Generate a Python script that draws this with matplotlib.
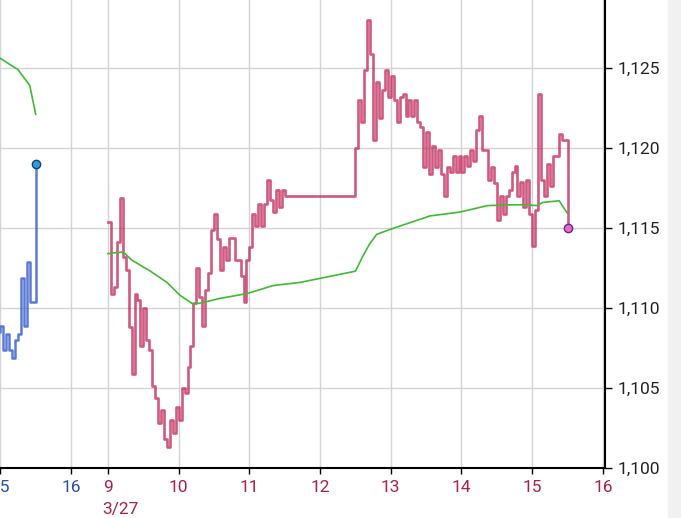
import numpy as np
import matplotlib.pyplot as plt
from matplotlib.patches import Rectangle

plt.rcParams['font.family'] = ['Roboto', 'DejaVu Sans']

# ==================== Data ====================
# previous session (blue) - 5 minute bins starting 14:55
blue_start = "14:55"
blue_lo = [1108.5, 1107.4, 1107.4, 1106.9, 1108.4, 1108.9]
blue_hi = [1109.3, 1108.9, 1108.4, 1108.0, 1111.9, 1112.9]
blue_auction = 1110.4
blue_close = 1119.0

blue_vwap_t = ["14:55", "15:00", "15:15", "15:25", "15:30"]
blue_vwap_v = [1125.8, 1125.6, 1124.9, 1123.9, 1122.1]

# 3/27 session (red) - morning bins from 9:00, afternoon bins from 12:30
red_am_lo = [1110.9, 1111.3, 1113.2, 1108.8, 1105.9, 1107.6, 1108.0, 1105.1, 1102.8, 1101.8,
             1101.3, 1102.2, 1103.0, 1104.7, 1107.6, 1110.7, 1108.9, 1112.2, 1114.3, 1112.4,
             1113.0, 1113.0, 1112.0, 1110.4, 1113.8, 1115.1, 1115.1, 1116.75, 1116.0, 1116.3]
red_am_hi = [1115.4, 1114.1, 1116.9, 1112.4, 1110.9, 1110.5, 1110.0, 1107.4, 1104.4, 1103.6,
             1103.0, 1103.8, 1105.0, 1106.3, 1110.3, 1112.5, 1111.1, 1114.9, 1115.9, 1113.8,
             1114.4, 1114.4, 1113.0, 1113.0, 1115.9, 1116.5, 1116.5, 1118.0, 1117.4, 1117.4]
red_lunch = 1117.0
red_pm_lo = [1120.0, 1121.6, 1125.9, 1120.5, 1121.9, 1123.2, 1123.0, 1121.6, 1122.0, 1122.0,
             1121.6, 1118.8, 1118.4, 1118.8, 1118.4, 1117.0, 1118.5, 1118.5, 1118.5, 1118.9,
             1119.2, 1119.9, 1118.0, 1117.8, 1115.5, 1115.9, 1117.4, 1117.0, 1116.3, 1115.9,
             1113.9, 1118.0, 1117.0, 1117.6, 1119.5]
red_pm_hi = [1123.0, 1124.9, 1128.0, 1124.1, 1123.6, 1124.9, 1124.5, 1123.2, 1123.4, 1123.0,
             1123.0, 1121.3, 1121.0, 1120.1, 1119.9, 1118.8, 1119.5, 1119.5, 1119.5, 1119.9,
             1121.1, 1122.0, 1119.9, 1118.8, 1117.0, 1117.0, 1118.5, 1118.9, 1117.9, 1118.0,
             1116.1, 1123.4, 1119.0, 1119.5, 1120.9]
red_auction = 1120.5
red_close = 1115.0

red_vwap_t = ["9:00", "9:13", "9:20", "9:36", "9:50", "10:01", "10:12", "10:18", "10:35",
              "10:58", "11:20", "11:43", "12:30", "12:36", "12:42", "12:48", "12:59", "13:19",
              "13:33", "13:59", "14:22", "14:44", "14:56", "15:04", "15:09", "15:23", "15:30"]
red_vwap_v = [1113.4, 1113.5, 1113.0, 1112.3, 1111.6, 1110.8, 1110.25, 1110.3, 1110.6,
              1110.9, 1111.4, 1111.6, 1112.3, 1113.2, 1114.0, 1114.6, 1114.9, 1115.4,
              1115.75, 1116.0, 1116.4, 1116.45, 1116.45, 1116.4, 1116.6, 1116.7, 1115.9]

y_ticks = [1100, 1105, 1110, 1115, 1120, 1125]
blue_tick_labels = ["15", "16"]
red_tick_labels = ["9", "10", "11", "12", "13", "14", "15", "16"]
date_label = "3/27"

BLUE_SHIFT = 7.523   # previous day hour -> shared axis position


def hm(s):
    h, m = s.split(':')
    return int(h) + int(m) / 60


def zigzag(start, lo, hi, step=5 / 60):
    """step path: each bin visits its low and high, ordered by where the price heads next"""
    xs, ys = [], []
    for i, (l, h) in enumerate(zip(lo, hi)):
        nxt = (lo[i + 1] + hi[i + 1]) / 2 if i + 1 < len(lo) else (l + h) / 2
        seq = [l, h] if nxt >= (l + h) / 2 else [h, l]
        for k, v in enumerate(seq):
            xs.append(start + i * step + k * step / 2)
            ys.append(v)
    return xs, ys


RED = '#bf1a4e'
BLUE = '#3d63cf'
GREEN = '#3fba33'

fig = plt.figure(figsize=(6.81, 5.18), dpi=100)
ax = fig.add_axes([0, 50 / 518, 605 / 681, 468 / 518])

# ==================== Previous session ====================
bx, by = zigzag(hm(blue_start), blue_lo, blue_hi)
bx += [hm("15:25"), hm("15:30")]
by += [blue_auction, blue_close]
bx = np.array(bx) - BLUE_SHIFT
ax.plot(bx, by, drawstyle='steps-post', color=BLUE, lw=1.8, alpha=0.85, zorder=3)
ax.plot(np.array([hm(t) for t in blue_vwap_t]) - BLUE_SHIFT, blue_vwap_v,
        color=GREEN, lw=1.2, zorder=4)
ax.plot(hm("15:30") - BLUE_SHIFT, blue_close, 'o', ms=6, mfc='#2b9fd9', mec='#1d3d6b',
        mew=1.0, zorder=5)

# ==================== 3/27 session ====================
ax_, ay_ = zigzag(hm("9:00"), red_am_lo, red_am_hi)
px_, py_ = zigzag(hm("12:30"), red_pm_lo, red_pm_hi)
rx = ax_ + [hm("11:30")] + px_ + [hm("15:25"), hm("15:30")]
ry = ay_ + [red_lunch] + py_ + [red_auction, red_close]
ax.plot(rx, ry, drawstyle='steps-post', color=RED, lw=1.9, alpha=0.72, zorder=3)
ax.plot([hm(t) for t in red_vwap_t], red_vwap_v, color=GREEN, lw=1.2, zorder=4)
ax.plot(hm("15:30"), red_close, 'o', ms=6, mfc='#e468e4', mec='#6b2a6b', mew=1.0, zorder=5)

# ==================== Axes ====================
ax.set_xlim(7.472, 16.03)
ax.set_ylim(1100, 1129.25)

blue_pos = [int(t) - BLUE_SHIFT for t in blue_tick_labels]
red_pos = [int(t) for t in red_tick_labels]
ax.set_xticks(blue_pos + red_pos)
ax.set_xticklabels(blue_tick_labels + red_tick_labels)
for i, lab in enumerate(ax.get_xticklabels()):
    lab.set_color('#2b4ea3' if i < len(blue_pos) else '#a8204c')

ax.set_yticks(y_ticks)
ax.set_yticklabels([f"{v:,}" for v in y_ticks])
ax.yaxis.tick_right()

ax.tick_params(axis='x', length=4, width=1, labelsize=12.5, pad=5)
ax.tick_params(axis='y', length=5, width=1, labelsize=12.5, pad=4, colors='#222222')
ax.tick_params(axis='y', color='black')

ax.grid(True, color='#d4d4d4', lw=1.0)
ax.set_axisbelow(True)
for side in ['top', 'left']:
    ax.spines[side].set_visible(False)
ax.spines['bottom'].set_linewidth(1.5)
ax.spines['right'].set_linewidth(1.5)

ax.annotate(date_label, xy=(9, 0), xycoords=('data', 'axes fraction'),
            xytext=(9, -30), textcoords='offset points', ha='center', va='center',
            fontsize=12.5, color='#a8204c', annotation_clip=False)

fig.patches.append(Rectangle((668 / 681, 0), 13 / 681, 1, transform=fig.transFigure,
                             color='#f1f1f1', zorder=0))

plt.savefig('out.png', dpi=100)
